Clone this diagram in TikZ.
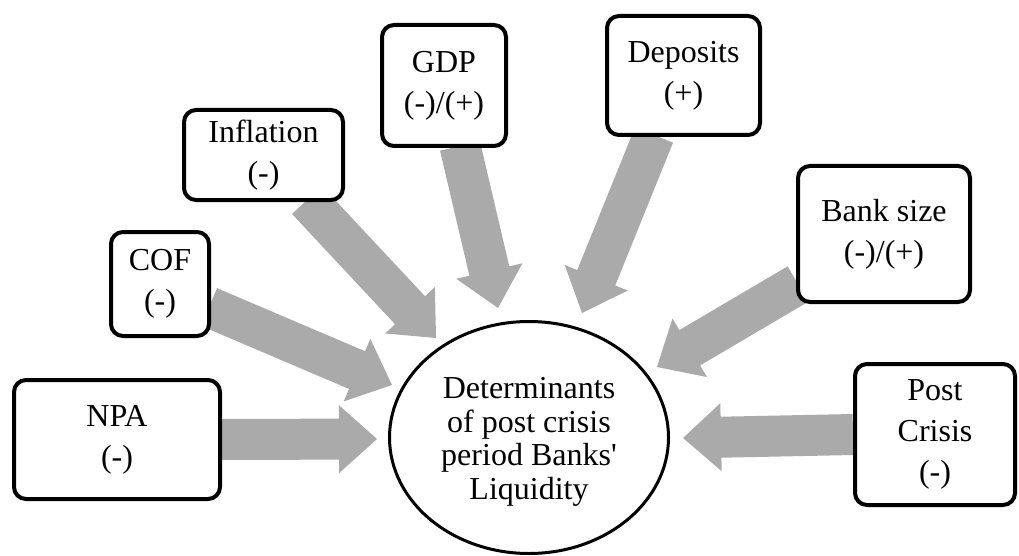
\documentclass[tikz,border=0pt]{standalone}
\usepackage{fontspec}
\setmainfont{Liberation Serif}
% same face without TeX input mapping, for a straight apostrophe
\newfontfamily\straightquote{Liberation Serif}
\usetikzlibrary{calc,shapes.geometric,backgrounds}
\definecolor{arrowgray}{RGB}{170,170,170}

% block arrow geometry
\newcommand\shafthw{20.5pt}
\newcommand\headhw{34pt}
\newcommand\headlen{38pt}
% \blockarrow{start}{tip}: thick gray arrow with a triangular head
\newcommand\blockarrow[2]{%
  \coordinate (ba-base) at ($(#2)!\headlen!(#1)$);
  \fill[arrowgray]
    ($(#1)!\shafthw!-90:(#2)$) --
    ($(ba-base)!\shafthw!90:(#1)$) --
    ($(ba-base)!\headhw!90:(#1)$) --
    (#2) --
    ($(ba-base)!\headhw!-90:(#1)$) --
    ($(ba-base)!\shafthw!-90:(#1)$) --
    ($(#1)!\shafthw!90:(#2)$) -- cycle;}

\begin{document}
\begin{tikzpicture}[x=1pt,y=-1pt,
  factor/.style={draw, line width=4pt, rounded corners=12pt, fill=white,
    align=center, inner sep=0pt,
    font=\fontsize{32}{41}\selectfont},
  centre/.style={draw, ellipse, line width=3pt, fill=white, align=center,
    inner sep=0pt, font=\fontsize{32}{33.5}\selectfont}]
\useasboundingbox (0,0) rectangle (1019,556);

% central ellipse (the strut on the first line lowers the text block a little)
\node[centre, minimum width=279, minimum height=232] (liq) at (529,437.5)
  {\rule{0pt}{30pt}Determinants\\of post crisis\\period Banks{\straightquote'}\\Liquidity};

% surrounding factors
\node[factor, minimum width=206, minimum height=119] (npa)  at (117,439.5) {NPA\\(-)};
\node[factor, minimum width=98,  minimum height=104] (cof)  at (160,284)   {COF\\(-)};
\node[factor, minimum width=159, minimum height=90]  (infl) at (263.5,155) {Inflation\\(-)};
\node[factor, minimum width=124, minimum height=121] (gdp)  at (444,85.5)  {GDP\\(-)/(+)};
\node[factor, minimum width=153, minimum height=119] (dep)  at (683.5,75.5) {Deposits\\(+)};
\node[factor, minimum width=172, minimum height=136] (bank) at (884,234)   {Bank size\\(-)/(+)};
\node[factor, minimum width=160, minimum height=141] (post) at (935,434.5) {Post\\Crisis\\(-)};

% arrow start points on the boxes and tips near the ellipse
\coordinate (cof-out)  at (209,307);
\coordinate (infl-out) at (307,200);
\coordinate (gdp-out)  at (460,146);
\coordinate (dep-out)  at (654,135);
\coordinate (bank-out) at (798,284);

\coordinate (npa-in)  at (377,439);
\coordinate (cof-in)  at (392,385);
\coordinate (infl-in) at (436,338);
\coordinate (gdp-in)  at (498,308);
\coordinate (dep-in)  at (582,313);
\coordinate (bank-in) at (657,367);
\coordinate (post-in) at (683,438);

\begin{scope}[on background layer]
  \blockarrow{npa.east}{npa-in}
  \blockarrow{cof-out}{cof-in}
  \blockarrow{infl-out}{infl-in}
  \blockarrow{gdp-out}{gdp-in}
  \blockarrow{dep-out}{dep-in}
  \blockarrow{bank-out}{bank-in}
  \blockarrow{post.west}{post-in}
\end{scope}
\end{tikzpicture}
\end{document}
